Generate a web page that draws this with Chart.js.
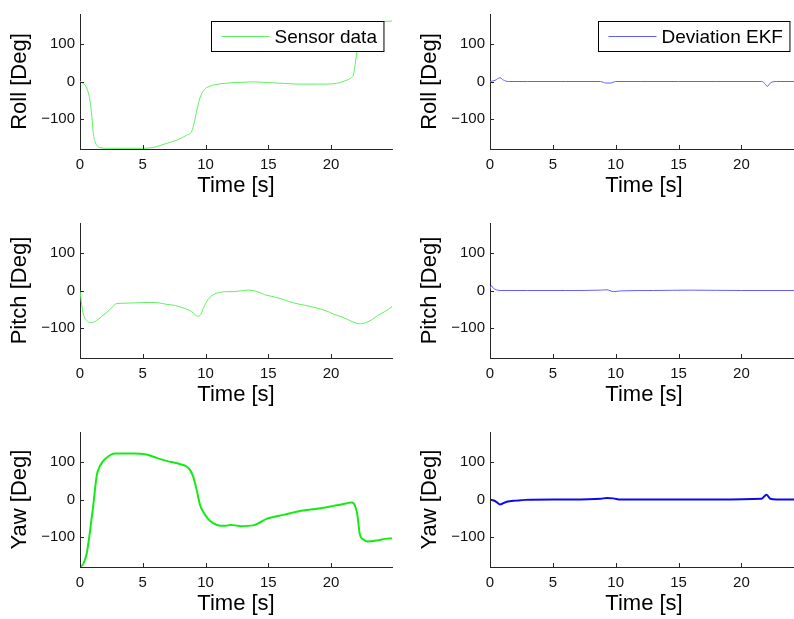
<!DOCTYPE html>
<html lang="en">
<head>
    <meta charset="UTF-8">
    <title>Sensor data vs Deviation EKF</title>
    <script src="https://cdn.jsdelivr.net/npm/chart.js@4.4.1/dist/chart.umd.min.js"></script>
    <style>
    html, body { margin: 0; padding: 0; background: #fff; overflow: hidden; width: 794px; height: 619px; }
    canvas { position: absolute; }
    </style>
</head>
<body>
    <canvas id="rollSensor" width="397" height="209" style="left:0;top:0"></canvas>
    <canvas id="rollEkf" width="394" height="209" style="left:410px;top:0"></canvas>
    <canvas id="pitchSensor" width="397" height="209" style="left:0;top:209px"></canvas>
    <canvas id="pitchEkf" width="394" height="209" style="left:410px;top:209px"></canvas>
    <canvas id="yawSensor" width="397" height="209" style="left:0;top:418px"></canvas>
    <canvas id="yawEkf" width="394" height="209" style="left:410px;top:418px"></canvas>
<script>
// time ticks / angle ticks
const timeTicks = [0, 5, 10, 15, 20];
const degTicks = [-100, 0, 100];

// sensor data (left column)
const rollSensorT = [0, 0.25, 0.53, 0.8, 0.95, 1.06, 1.2, 1.33, 1.6, 2.2, 3, 4, 5, 5.8, 6.9, 7.8, 8.5, 8.9, 9.1, 9.3, 9.57, 9.9, 10.3, 10.8, 11.5, 12.2, 13, 13.8, 15, 16.2, 17.5, 19, 20.2, 20.7, 21.2, 21.6, 21.8, 21.95, 22.1, 22.2, 22.3, 22.5, 23, 24, 24.86];
const rollSensor = [0, -5, -17, -52, -95, -139, -160, -170, -176, -178, -178, -178, -178, -176, -165, -155, -143, -133, -110, -78, -43, -22, -13, -8, -5, -3, -2, -1, -3, -5, -7, -7, -6, -3, 3, 10, 20, 52, 90, 115, 135, 150, 158, 160, 161];

const pitchSensorT = [0, 0.13, 0.27, 0.53, 0.85, 1.1, 1.33, 1.7, 2.1, 2.5, 2.9, 3.5, 4.3, 5.6, 6.3, 6.9, 7.6, 8.2, 8.6, 8.9, 9.15, 9.35, 9.57, 9.7, 9.84, 10.0, 10.2, 10.5, 10.9, 11.3, 11.7, 12.2, 12.8, 13.3, 13.8, 14.1, 14.5, 14.9, 15.5, 16.2, 17, 18, 18.9, 19.6, 20.2, 20.9, 21.5, 22.0, 22.3, 22.9, 23.3, 23.7, 24.3, 24.86];
const pitchSensor = [0, -37, -63, -80, -86, -84, -80, -70, -59, -47, -35, -34, -33, -32, -33, -37, -40, -46, -51, -57, -64, -68, -66, -58, -46, -35, -24, -14, -7, -4, -3, -3, -1, 1, 0, -3, -8, -13, -17, -24, -33, -40, -47, -54, -63, -71, -80, -87, -89, -84, -77, -67, -56, -43];

const yawSensorT = [0, 0.27, 0.53, 0.8, 1.06, 1.33, 1.6, 2.1, 2.8, 3.5, 4.3, 5.3, 6.1, 6.9, 8.0, 8.5, 8.8, 9.04, 9.3, 9.57, 9.97, 10.3, 10.6, 11.2, 11.6, 12, 12.4, 12.8, 13.8, 14.3, 14.9, 15.5, 16.2, 17.6, 19, 20.2, 21, 21.4, 21.6, 21.8, 21.95, 22.1, 22.3, 22.6, 22.9, 23.7, 24.3, 24.86];
const yawSensor = [-180, -171, -145, -84, -15, 63, 90, 111, 123, 123, 123, 120, 111, 103, 94, 88, 77, 59, 25, -15, -41, -55, -63, -70, -70, -68, -69, -71, -69, -62, -51, -46, -41, -30, -24, -17, -12, -9, -8, -10, -20, -41, -93, -107, -112, -109, -105, -104];

// deviation EKF (right column)
const rollEkfT = [0, 0.4, 0.8, 1.06, 1.46, 3, 6, 8.8, 9.2, 9.6, 10, 12, 15, 18, 21.6, 21.9, 22.05, 22.3, 22.8, 24.5];
const rollEkf = [0, 3, 10, 4, 0, 0, 0, 0, -4, -4, 0, 0, 0, 0, 0, -7, -13, -4, 0, 0];

const pitchEkfT = [0, 0.1, 0.27, 0.5, 0.8, 3, 6, 8.8, 9.3, 9.8, 10.4, 13, 16, 20, 24.5];
const pitchEkf = [4, 13, 6, 2, 0, 0, 0, 1, 2, -3, -1, 0, 1, 0, 0];

const yawEkfT = [0, 0.4, 0.8, 1.33, 2.1, 2.8, 6, 8.8, 9.3, 9.8, 10.4, 14, 18, 21.6, 22, 22.3, 22.8, 24.5];
const yawEkf = [0, -4, -13, -6, -3, -1, 0, 2, 4, 3, 0, 0, 0, 2, 13, 2, 0, 0];

const FONT = "'Liberation Sans', Arial, Helvetica, sans-serif";
const AXIS_COLOR = '#262626';

// matlab-like inward tick marks
const inwardTicks = {
    id: 'inwardTicks',
    afterDraw(chart) {
        const {ctx, chartArea: a, scales: {x, y}} = chart;
        ctx.save();
        ctx.strokeStyle = AXIS_COLOR;
        ctx.lineWidth = 1;
        ctx.beginPath();
        x.ticks.forEach(t => {
            const px = Math.round(x.getPixelForValue(t.value)) + 0.5;
            ctx.moveTo(px, a.bottom);
            ctx.lineTo(px, a.bottom - 4);
        });
        y.ticks.forEach(t => {
            const py = Math.round(y.getPixelForValue(t.value)) + 0.5;
            ctx.moveTo(a.left, py);
            ctx.lineTo(a.left + 4, py);
        });
        ctx.stroke();
        ctx.restore();
    }
};

// legend box drawn inside the plot, over the data
const boxLegend = {
    id: 'boxLegend',
    afterDatasetsDraw(chart, args, opts) {
        if (!opts.text) return;
        const {ctx, chartArea: a} = chart;
        const ds = chart.data.datasets[0];
        ctx.save();
        ctx.font = '19px ' + FONT;
        const tw = ctx.measureText(opts.text).width;
        const w = 10 + 48 + 5 + tw + 7;
        const h = 30;
        const bx = Math.round(a.right - 9 - w) + 0.5;
        const by = Math.round(a.top + 7) + 0.5;
        ctx.fillStyle = '#fff';
        ctx.fillRect(bx, by, w, h);
        ctx.strokeStyle = '#000';
        ctx.lineWidth = 1;
        ctx.strokeRect(bx, by, w, h);
        ctx.strokeStyle = ds.borderColor;
        ctx.beginPath();
        ctx.moveTo(bx + 10, by + h / 2);
        ctx.lineTo(bx + 58, by + h / 2);
        ctx.stroke();
        ctx.fillStyle = '#000';
        ctx.textBaseline = 'middle';
        ctx.fillText(opts.text, bx + 63, by + h / 2 + 1);
        ctx.restore();
    }
};

function makeChart(id, t, vals, color, width, yTitle, xMax, rightPad, legendText) {
    const pts = t.map((tt, i) => ({x: tt, y: vals[i]}));
    new Chart(document.getElementById(id), {
        type: 'line',
        data: {
            datasets: [{
                data: pts,
                borderColor: color,
                borderWidth: width,
                pointRadius: 0,
                fill: false,
                cubicInterpolationMode: 'monotone'
            }]
        },
        options: {
            responsive: false,
            animation: false,
            devicePixelRatio: 1,
            layout: { padding: { top: 11, right: rightPad, left: 0, bottom: 0 } },
            plugins: {
                legend: { display: false },
                tooltip: { enabled: false },
                boxLegend: { text: legendText }
            },
            scales: {
                x: {
                    type: 'linear',
                    min: 0,
                    max: xMax,
                    afterBuildTicks: s => { s.ticks = timeTicks.map(v => ({value: v})); },
                    afterFit: s => { s.height = 60; },
                    grid: { display: false, drawTicks: false },
                    border: { display: true, color: AXIS_COLOR },
                    ticks: { color: '#111', padding: 7, maxRotation: 0, font: { family: FONT, size: 15 } },
                    title: { display: true, text: 'Time [s]', color: '#000', padding: { top: 0, bottom: 10 }, font: { family: FONT, size: 22 } }
                },
                y: {
                    min: -180,
                    max: 180,
                    afterBuildTicks: s => { s.ticks = degTicks.map(v => ({value: v})); },
                    afterFit: s => { s.width = 80; },
                    grid: { display: false, drawTicks: false },
                    border: { display: true, color: AXIS_COLOR },
                    ticks: {
                        color: '#111', padding: 5, font: { family: FONT, size: 15 },
                        callback: v => v < 0 ? '\u2212' + Math.abs(v) : String(v)
                    },
                    title: { display: true, text: yTitle, color: '#000', padding: { top: 7, bottom: 0 }, font: { family: FONT, size: 22 } }
                }
            }
        },
        plugins: [inwardTicks, boxLegend]
    });
}

const GREEN_THIN = 'rgb(95,240,95)';
const GREEN = 'rgb(20,235,20)';
const BLUE_THIN = 'rgb(95,95,255)';
const BLUE = 'rgb(10,10,240)';

makeChart('rollSensor', rollSensorT, rollSensor, GREEN_THIN, 1, 'Roll [Deg]', 24.86, 5, 'Sensor data');
makeChart('pitchSensor', pitchSensorT, pitchSensor, GREEN_THIN, 1, 'Pitch [Deg]', 24.86, 5, null);
makeChart('yawSensor', yawSensorT, yawSensor, GREEN, 2, 'Yaw [Deg]', 24.86, 5, null);
makeChart('rollEkf', rollEkfT, rollEkf, BLUE_THIN, 1, 'Roll [Deg]', 24.5, 6, 'Deviation EKF');
makeChart('pitchEkf', pitchEkfT, pitchEkf, BLUE_THIN, 1, 'Pitch [Deg]', 24.5, 6, null);
makeChart('yawEkf', yawEkfT, yawEkf, BLUE, 2, 'Yaw [Deg]', 24.5, 6, null);
</script>
</body>
</html>
